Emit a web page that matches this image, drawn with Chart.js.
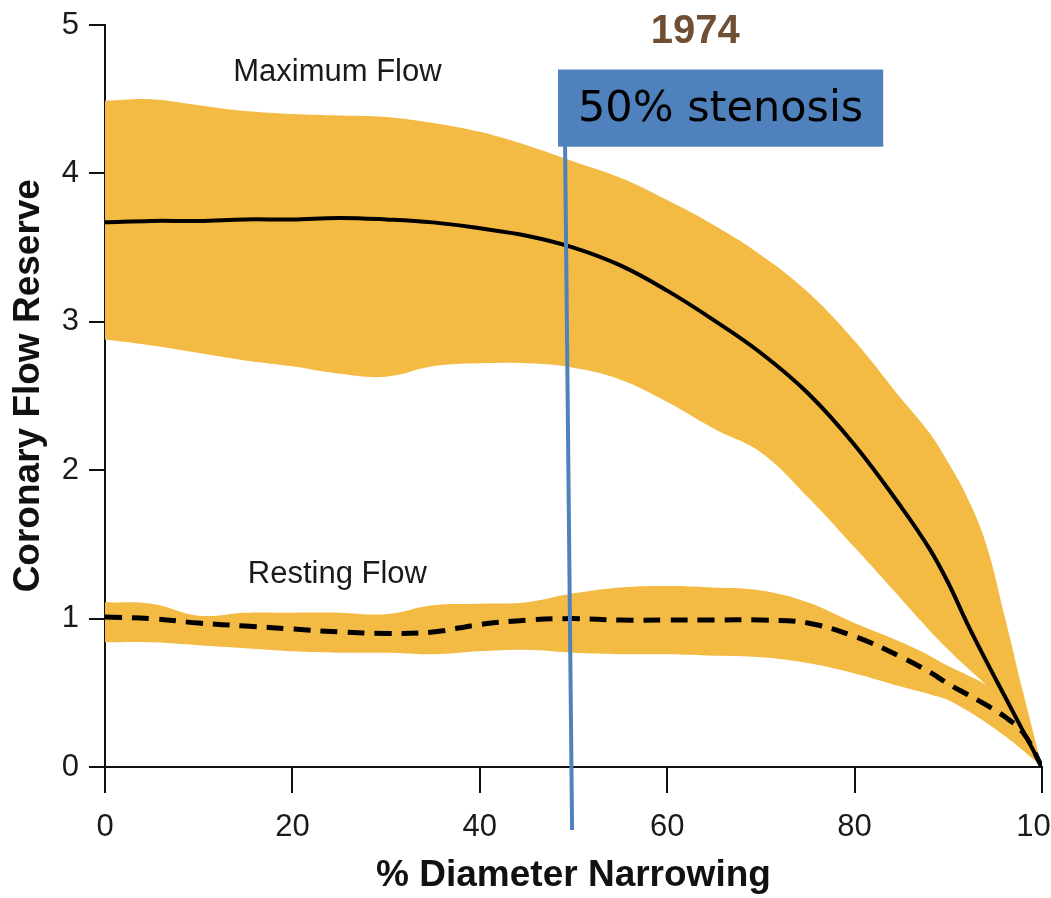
<!DOCTYPE html>
<html>
<head>
    <title>Coronary Flow Reserve 1974</title>
    <script src="https://cdn.jsdelivr.net/npm/chart.js"></script>
    <style>
        body { margin: 0; background: #fff; overflow: hidden; }
        #wrap { width: 1051px; height: 898px; position: relative; }
    </style>
</head>
<body>
    <div id="wrap"><canvas id="flowChart"></canvas></div>

    <script>
        // % diameter narrowing
        const xValues = [0, 5, 10, 15, 20, 25, 30, 35, 40, 45, 50, 55, 60, 65, 70, 75, 80, 85, 88, 90, 92, 94, 96, 98, 100];

        // maximum flow (mean + band)
        const maxFlowMean  = [3.67, 3.68, 3.68, 3.69, 3.69, 3.70, 3.69, 3.67, 3.63, 3.58, 3.50, 3.38, 3.21, 3.01, 2.79, 2.52, 2.17, 1.75, 1.47, 1.24, 0.97, 0.72, 0.48, 0.24, 0];
        const maxFlowUpper = [4.49, 4.50, 4.46, 4.42, 4.40, 4.39, 4.38, 4.34, 4.28, 4.19, 4.08, 3.97, 3.82, 3.65, 3.45, 3.20, 2.87, 2.48, 2.25, 2.05, 1.82, 1.51, 1.02, 0.50, 0];
        const maxFlowLower = [2.88, 2.84, 2.79, 2.74, 2.70, 2.65, 2.63, 2.70, 2.72, 2.72, 2.69, 2.61, 2.46, 2.28, 2.12, 1.82, 1.48, 1.13, 0.92, 0.79, 0.67, 0.55, 0.37, 0.18, 0];

        // resting flow (mean + band)
        const restFlowMean  = [1.01, 1.00, 0.97, 0.95, 0.93, 0.91, 0.90, 0.91, 0.96, 0.99, 1.00, 0.99, 0.99, 0.99, 0.99, 0.97, 0.88, 0.74, 0.64, 0.56, 0.49, 0.42, 0.34, 0.23, 0];
        const restFlowUpper = [1.11, 1.10, 1.02, 1.04, 1.04, 1.04, 1.03, 1.09, 1.10, 1.11, 1.17, 1.21, 1.22, 1.21, 1.19, 1.11, 0.97, 0.84, 0.75, 0.68, 0.62, 0.55, 0.40, 0.20, 0];
        const restFlowLower = [0.84, 0.84, 0.82, 0.80, 0.78, 0.77, 0.77, 0.76, 0.78, 0.79, 0.77, 0.76, 0.76, 0.75, 0.74, 0.70, 0.63, 0.54, 0.49, 0.45, 0.38, 0.30, 0.21, 0.11, 0];

        // 50% stenosis marker line
        const stenosisX = [49.1, 49.85];
        const stenosisY = [4.185, -0.425];

        const xTicks = [0, 20, 40, 60, 80, 100];
        const yTicks = [0, 1, 2, 3, 4, 5];

        const bandColor = '#f3bb44';
        const blue = '#4f81bd';

        function pts(xs, ys) {
            return xs.map((x, i) => ({ x: x, y: ys[i] }));
        }

        // texts placed in data coordinates
        const labels = [
            { text: '1974', x: 63.0, y: 4.955, font: 'bold 40px "Liberation Sans", Arial, sans-serif', color: '#6e4f33' },
            { text: 'Maximum Flow', x: 24.8, y: 4.68, font: '31px "Liberation Sans", Arial, sans-serif', color: '#1a1a1a' },
            { text: 'Resting Flow', x: 24.8, y: 1.30, font: '31px "Liberation Sans", Arial, sans-serif', color: '#1a1a1a' }
        ];
        const stenosisBox = { x1: 48.35, x2: 83.05, y1: 4.70, y2: 4.18, text: '50% stenosis' };

        const annotations = {
            id: 'annotations',
            afterDraw(chart) {
                const ctx = chart.ctx;
                const xs = chart.scales.x, ys = chart.scales.y;
                ctx.save();
                // box
                const bx1 = xs.getPixelForValue(stenosisBox.x1);
                const bx2 = xs.getPixelForValue(stenosisBox.x2);
                const by1 = ys.getPixelForValue(stenosisBox.y1);
                const by2 = ys.getPixelForValue(stenosisBox.y2);
                ctx.fillStyle = blue;
                ctx.fillRect(bx1, by1, bx2 - bx1, by2 - by1);
                ctx.fillStyle = '#000';
                ctx.font = '43px "DejaVu Sans", sans-serif';
                ctx.textAlign = 'center';
                ctx.textBaseline = 'middle';
                ctx.fillText(stenosisBox.text, (bx1 + bx2) / 2, (by1 + by2) / 2 + 2);
                // labels
                labels.forEach(l => {
                    ctx.font = l.font;
                    ctx.fillStyle = l.color;
                    ctx.fillText(l.text, xs.getPixelForValue(l.x), ys.getPixelForValue(l.y));
                });
                ctx.restore();
            }
        };

        // curve / band styles
        function curve(label, values, extra) {
            return Object.assign({
                label: label,
                data: pts(xValues, values),
                pointRadius: 0,
                tension: 0.4,
                fill: false
            }, extra);
        }

        const ctx = document.getElementById('flowChart').getContext('2d');
        new Chart(ctx, {
            type: 'line',
            data: {
                datasets: [
                    {
                        label: '50% stenosis',
                        data: pts(stenosisX, stenosisY),
                        borderColor: blue,
                        borderWidth: 4,
                        pointRadius: 0,
                        fill: false,
                        clip: false
                    },
                    curve('Maximum Flow', maxFlowMean, { borderColor: '#000', borderWidth: 4 }),
                    curve('Resting Flow', restFlowMean, { borderColor: '#000', borderWidth: 5, borderDash: [17, 10] }),
                    curve('Maximum Flow upper', maxFlowUpper, { borderWidth: 0, borderColor: bandColor, backgroundColor: bandColor, fill: '+1' }),
                    curve('Maximum Flow lower', maxFlowLower, { borderWidth: 0, borderColor: bandColor }),
                    curve('Resting Flow upper', restFlowUpper, { borderWidth: 0, borderColor: bandColor, backgroundColor: bandColor, fill: '+1' }),
                    curve('Resting Flow lower', restFlowLower, { borderWidth: 0, borderColor: bandColor })
                ]
            },
            options: {
                responsive: true,
                maintainAspectRatio: false,
                animation: false,
                layout: { padding: { top: 25, right: 9, left: 0, bottom: 0 } },
                plugins: {
                    legend: { display: false },
                    tooltip: { enabled: false }
                },
                scales: {
                    x: {
                        type: 'linear',
                        min: 0,
                        max: 100,
                        afterBuildTicks: s => { s.ticks = xTicks.map(v => ({ value: v })); },
                        afterFit: s => { s.height = 131; s.paddingLeft = 0; s.paddingRight = 0; },
                        grid: { drawOnChartArea: false, drawTicks: true, tickLength: 26, color: '#111', lineWidth: 2 },
                        border: { display: true, color: '#111', width: 2 },
                        ticks: {
                            padding: 16,
                            color: '#1a1a1a',
                            maxRotation: 0,
                            font: { family: '"Liberation Sans", Arial, sans-serif', size: 31 }
                        },
                        title: {
                            display: true,
                            text: '% Diameter Narrowing',
                            color: '#111',
                            padding: { top: 0, bottom: 0 },
                            font: { family: '"Liberation Sans", Arial, sans-serif', size: 37, weight: 'bold' }
                        }
                    },
                    y: {
                        min: 0,
                        max: 5,
                        afterBuildTicks: s => { s.ticks = yTicks.map(v => ({ value: v })); },
                        afterFit: s => { s.width = 105; s.paddingTop = 0; s.paddingBottom = 0; },
                        grid: { drawOnChartArea: false, drawTicks: true, tickLength: 16, color: '#111', lineWidth: 2 },
                        border: { display: true, color: '#111', width: 2 },
                        ticks: {
                            padding: 10,
                            color: '#1a1a1a',
                            font: { family: '"Liberation Sans", Arial, sans-serif', size: 31 }
                        },
                        title: {
                            display: true,
                            text: '  Coronary Flow Reserve',
                            color: '#111',
                            padding: { top: 7, bottom: 0 },
                            font: { family: '"Liberation Sans", Arial, sans-serif', size: 37, weight: 'bold' }
                        }
                    }
                }
            },
            plugins: [annotations]
        });
    </script>
</body>
</html>
